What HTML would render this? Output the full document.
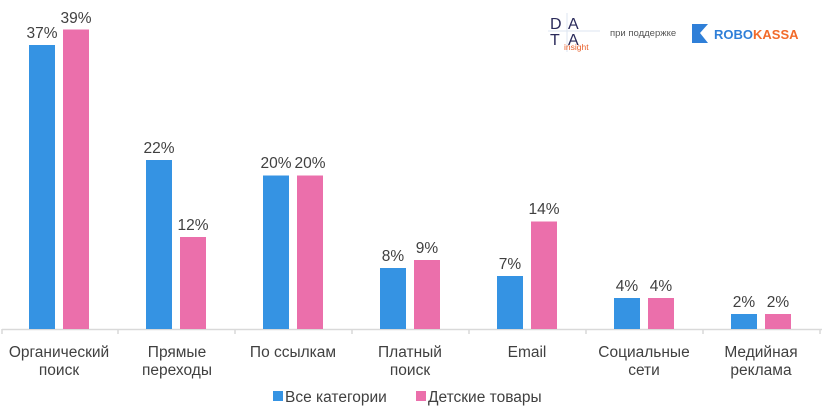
<!DOCTYPE html><html><head><meta charset="utf-8"><style>body{margin:0;background:#fff}svg{display:block;font-family:"Liberation Sans",sans-serif}</style></head><body>
<svg width="822" height="417" xmlns="http://www.w3.org/2000/svg">
<line x1="2" y1="329.5" x2="822" y2="329.5" stroke="#d9d9d9" stroke-width="1.5"/>
<g stroke="#d9d9d9" stroke-width="1.5">
<line x1="2" y1="329" x2="2" y2="334"/><line x1="118" y1="329" x2="118" y2="334"/><line x1="235" y1="329" x2="235" y2="334"/><line x1="352" y1="329" x2="352" y2="334"/><line x1="469" y1="329" x2="469" y2="334"/><line x1="586" y1="329" x2="586" y2="334"/><line x1="703" y1="329" x2="703" y2="334"/><line x1="820" y1="329" x2="820" y2="334"/>
</g>
<g font-size="15.5" fill="#404040" text-anchor="middle">
<rect x="29" y="45" width="26" height="284" fill="#3593e3"/><rect x="63" y="29.5" width="26" height="299.5" fill="#eb6fab"/>
<text x="42" y="38">37%</text><text x="76" y="23">39%</text>
<rect x="146" y="160" width="26" height="169" fill="#3593e3"/><rect x="180" y="237" width="26" height="92" fill="#eb6fab"/>
<text x="159" y="153">22%</text><text x="193" y="230">12%</text>
<rect x="263" y="175.5" width="26" height="153.5" fill="#3593e3"/><rect x="297" y="175.5" width="26" height="153.5" fill="#eb6fab"/>
<text x="276" y="168">20%</text><text x="310" y="168">20%</text>
<rect x="380" y="268" width="26" height="61" fill="#3593e3"/><rect x="414" y="260" width="26" height="69" fill="#eb6fab"/>
<text x="393" y="261">8%</text><text x="427" y="253">9%</text>
<rect x="497" y="276" width="26" height="53" fill="#3593e3"/><rect x="531" y="221.5" width="26" height="107.5" fill="#eb6fab"/>
<text x="510" y="269">7%</text><text x="544" y="214">14%</text>
<rect x="614" y="298" width="26" height="31" fill="#3593e3"/><rect x="648" y="298" width="26" height="31" fill="#eb6fab"/>
<text x="627" y="291">4%</text><text x="661" y="291">4%</text>
<rect x="731" y="314" width="26" height="15" fill="#3593e3"/><rect x="765" y="314" width="26" height="15" fill="#eb6fab"/>
<text x="744" y="307">2%</text><text x="778" y="307">2%</text>
<text x="59" y="357">Органический</text><text x="59" y="375">поиск</text>
<text x="177" y="357">Прямые</text><text x="177" y="375">переходы</text>
<text x="293" y="357">По ссылкам</text>
<text x="410" y="357">Платный</text><text x="410" y="375">поиск</text>
<text x="527" y="357">Email</text>
<text x="644" y="357">Социальные</text><text x="644" y="375">сети</text>
<text x="761" y="357">Медийная</text><text x="761" y="375">реклама</text>
</g>
<rect x="273" y="391" width="10" height="10" fill="#3593e3"/>
<text x="285" y="402" font-size="15.5" fill="#404040">Все категории</text>
<rect x="416" y="391" width="10" height="10" fill="#eb6fab"/>
<text x="428" y="402" font-size="15.5" fill="#404040">Детские товары</text>
<g>
<line x1="548" y1="31" x2="600" y2="31" stroke="#dde6f0"/>
<line x1="567" y1="13" x2="567" y2="52" stroke="#dde6f0"/>
<text x="550" y="29" font-size="16" fill="#2a2a5a">D</text><text x="568" y="29" font-size="16" fill="#2a2a5a">A</text>
<text x="550" y="45" font-size="16" fill="#2a2a5a">T</text><text x="568" y="45" font-size="16" fill="#2a2a5a">A</text>
<text x="564" y="50" font-size="8.5" fill="#e8602c">insight</text>
<text x="610" y="36" font-size="9.5" fill="#555">при поддержке</text>
<polygon points="692,24 708,24 700,33 708,43 692,43" fill="#2f7fd8"/>
<text x="714" y="39" font-size="13" font-weight="bold" fill="#2f7fd8">ROBO<tspan fill="#f26b2a">KASSA</tspan></text>
</g>
</svg></body></html>
